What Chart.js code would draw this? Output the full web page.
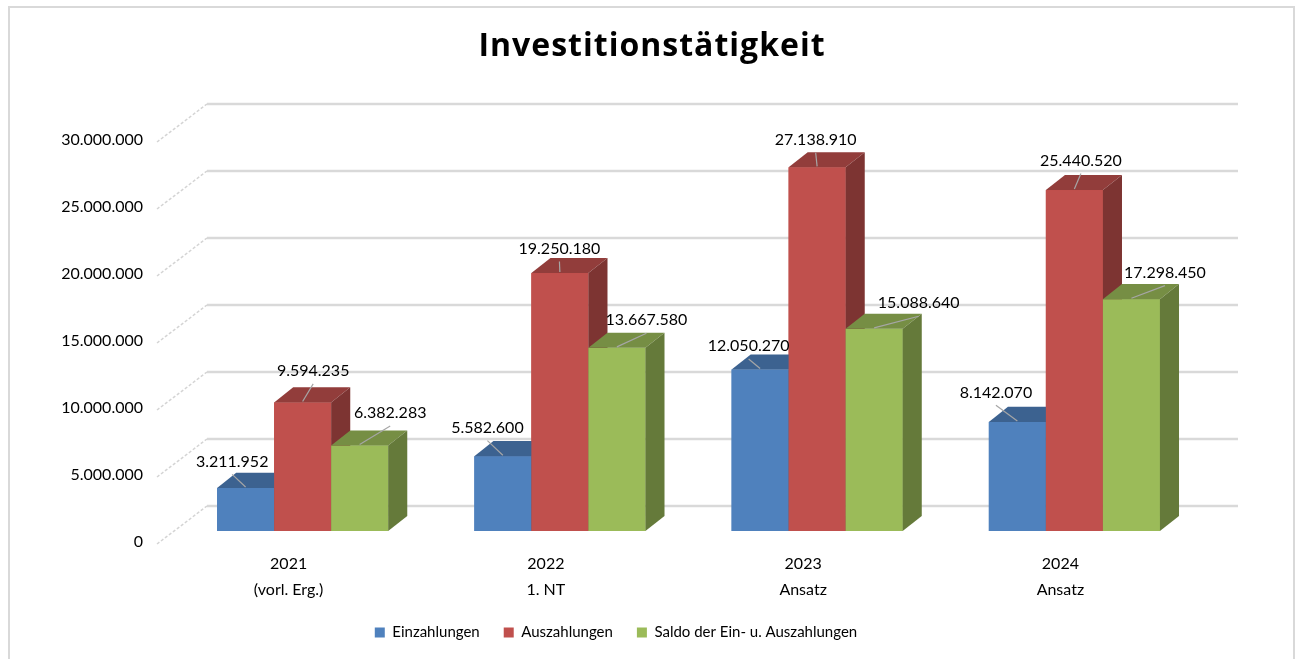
<!DOCTYPE html>
<html>
<head>
<meta charset="utf-8">
<script src="https://cdn.jsdelivr.net/npm/chart.js@4.4.1/dist/chart.umd.min.js"></script>
<style>
    html, body { margin: 0; padding: 0; background: #fff; overflow: hidden; }
    #wrap { position: relative; width: 1298px; height: 659px; }
    #frame { position: absolute; left: 8px; top: 6px; width: 1283px; height: 700px; border: 2px solid #d9d9d9; pointer-events: none; }
    canvas { position: absolute; left: 0; top: 0; }
</style>
</head>
<body>
<div id="wrap">
    <canvas id="chart" width="1298" height="659"></canvas>
    <div id="frame"></div>
</div>
<script>
// Chart values
const categories = [['2021', '(vorl. Erg.)'], ['2022', '1. NT'], ['2023', 'Ansatz'], ['2024', 'Ansatz']];
const einzahlungen = [3211952, 5582600, 12050270, 8142070];
const auszahlungen = [9594235, 19250180, 27138910, 25440520];
const saldo = [6382283, 13667580, 15088640, 17298450];
const seriesNames = ['Einzahlungen', 'Auszahlungen', 'Saldo der Ein- u. Auszahlungen'];
const yTickValues = [0, 5000000, 10000000, 15000000, 20000000, 25000000, 30000000];
const chartTitle = 'Investitionstätigkeit';

const colors = ['#4F81BD', '#C0504D', '#9BBB59'];

// where each value label sits, relative to the centre of the bar's top face
const labelShift = [
    [[-23, -19], [-25, -21], [-21, -16], [-31, -22]],
    [[1, -24], [-10, -17], [-11, -20], [-3, -22]],
    [[21, -25], [20, -20], [35, -18], [24, -19]]
];

// 1.234.567 style numbers
function fmt(v) {
    return String(v).replace(/\B(?=(\d{3})+(?!\d))/g, '.');
}

function shade(hex, f) {
    const n = parseInt(hex.slice(1), 16);
    return `rgb(${Math.round((n >> 16) * f)},${Math.round(((n >> 8) & 255) * f)},${Math.round((n & 255) * f)})`;
}

// Title, drawn centred on the whole picture (the legend is not)
const titleText = {
    id: 'titleText',
    afterDraw(chart) {
        const ctx = chart.ctx;
        ctx.save();
        ctx.font = 'bold 32px "Open Sans"';
        ctx.letterSpacing = '1px';
        ctx.fillStyle = '#000';
        ctx.textAlign = 'center';
        ctx.textBaseline = 'middle';
        ctx.fillText(chartTitle, 652, 47);
        ctx.restore();
    }
};

// Back wall + side wall gridlines
const wall3d = {
    id: 'wall3d',
    beforeDatasetsDraw(chart) {
        const { ctx, chartArea: a, scales: { y } } = chart;
        ctx.save();
        y.ticks.forEach(t => {
            const py = y.getPixelForValue(t.value);
            ctx.strokeStyle = '#d9d9d9';
            ctx.lineWidth = 2.5;
            ctx.setLineDash([]);
            ctx.beginPath();
            ctx.moveTo(a.left + 33, py - 25);
            ctx.lineTo(a.right + 35, py - 25);
            ctx.stroke();

            ctx.strokeStyle = '#d4d4d4';
            ctx.lineWidth = 1.5;
            ctx.setLineDash([3, 2]);
            ctx.beginPath();
            ctx.moveTo(a.left - 17, py + 13);
            ctx.lineTo(a.left + 33, py - 25);
            ctx.stroke();
        });
        ctx.restore();
    }
};

// Redraw bars as boxes (front, top, side) and add the value labels
const bars3d = {
    id: 'bars3d',
    afterDatasetsDraw(chart) {
        const ctx = chart.ctx;
        ctx.save();
        const tops = [];
        chart.data.datasets.forEach((ds, i) => {
            const meta = chart.getDatasetMeta(i);
            tops[i] = [];
            meta.data.forEach((bar, j) => {
                const { x, y, base, width } = bar.getProps(['x', 'y', 'base', 'width'], true);
                const L = x - width / 2, R = x + width / 2;
                const dx = width * 0.335, dy = dx * 0.79;

                ctx.fillStyle = colors[i];
                ctx.fillRect(L, y, width, base - y);

                ctx.fillStyle = shade(colors[i], 0.76);
                ctx.beginPath();
                ctx.moveTo(L, y);
                ctx.lineTo(L + dx, y - dy);
                ctx.lineTo(R + dx, y - dy);
                ctx.lineTo(R, y);
                ctx.closePath();
                ctx.fill();

                ctx.fillStyle = shade(colors[i], 0.65);
                ctx.beginPath();
                ctx.moveTo(R, y);
                ctx.lineTo(R + dx, y - dy);
                ctx.lineTo(R + dx, base - dy);
                ctx.lineTo(R, base);
                ctx.closePath();
                ctx.fill();

                tops[i][j] = { x, y, fx: x + dx / 2, fy: y - dy / 2 };
            });
        });

        // labels with leader lines
        ctx.font = '16px Lato';
        ctx.textAlign = 'center';
        ctx.textBaseline = 'middle';
        chart.data.datasets.forEach((ds, i) => {
            ds.data.forEach((v, j) => {
                const t = tops[i][j];
                const lx = t.fx + labelShift[i][j][0];
                const ly = t.fy + labelShift[i][j][1];
                ctx.strokeStyle = '#a6a6a6';
                ctx.lineWidth = 1.2;
                ctx.beginPath();
                ctx.moveTo(lx, ly + 13);
                ctx.lineTo(t.x, t.y - 1);
                ctx.stroke();
                ctx.fillStyle = '#000';
                ctx.fillText(fmt(v), lx, ly);
            });
        });
        ctx.restore();
    }
};

const chart = new Chart(document.getElementById('chart'), {
    type: 'bar',
    data: {
        labels: categories,
        datasets: [
            { label: seriesNames[0], data: einzahlungen, backgroundColor: colors[0], borderWidth: 0 },
            { label: seriesNames[1], data: auszahlungen, backgroundColor: colors[1], borderWidth: 0 },
            { label: seriesNames[2], data: saldo, backgroundColor: colors[2], borderWidth: 0 }
        ]
    },
    options: {
        responsive: false,
        animation: false,
        layout: { padding: { left: 0, right: 66, top: 129, bottom: 9 } },
        datasets: { bar: { categoryPercentage: 0.665, barPercentage: 1 } },
        scales: {
            x: {
                grid: { display: false, drawTicks: false },
                border: { display: false },
                ticks: {
                    font: { family: 'Lato', size: 16, lineHeight: 1.6 },
                    color: '#000',
                    padding: 20,
                    labelOffset: -14,
                    maxRotation: 0,
                    autoSkip: false
                },
                afterFit: s => { s.height = 70; }
            },
            y: {
                min: 0,
                max: 30000000,
                grid: { display: false, drawTicks: false },
                border: { display: false },
                afterBuildTicks: s => { s.ticks = yTickValues.map(v => ({ value: v })); },
                ticks: {
                    font: { family: 'Lato', size: 16 },
                    color: '#000',
                    padding: 31,
                    labelOffset: 11,
                    callback: v => fmt(v)
                },
                afterFit: s => { s.width = 174; }
            },
            // empty axis on the right, only keeps room for the depth of the walls
            yr: {
                position: 'right',
                grid: { display: false, drawTicks: false },
                border: { display: false },
                ticks: { display: false },
                afterFit: s => { s.width = 29; }
            }
        },
        plugins: {
            title: { display: false },
            legend: {
                position: 'bottom',
                labels: {
                    boxWidth: 10,
                    boxHeight: 10,
                    padding: 24,
                    font: { family: 'Lato', size: 15 },
                    color: '#000'
                }
            },
            tooltip: { enabled: false }
        }
    },
    plugins: [wall3d, bars3d, titleText]
});
</script>
</body>
</html>
